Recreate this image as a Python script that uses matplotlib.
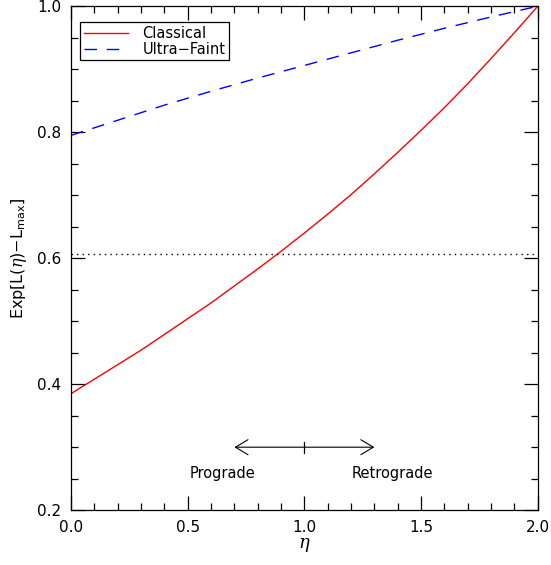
import matplotlib
matplotlib.use('Agg')
import matplotlib.pyplot as plt
from matplotlib.ticker import MultipleLocator

# values
eta_red = [0.0, 0.1, 0.2, 0.3, 0.4, 0.5, 0.6, 0.7, 0.8, 0.9, 1.0,
           1.1, 1.2, 1.3, 1.4, 1.5, 1.6, 1.7, 1.8, 1.9, 2.0]
classical = [0.385, 0.408, 0.431, 0.454, 0.479, 0.504, 0.529, 0.556, 0.583, 0.611, 0.640,
             0.670, 0.701, 0.734, 0.768, 0.803, 0.839, 0.877, 0.917, 0.958, 1.0]
eta_blue = [0.0, 0.2, 0.4, 0.6, 0.8, 1.0, 1.2, 1.4, 1.6, 1.8, 2.0]
ultra_faint = [0.795, 0.819, 0.843, 0.865, 0.886, 0.906, 0.926, 0.946, 0.965, 0.983, 1.0]
cut_level = 0.6065
arrow_span = [0.7, 1.3]
arrow_y = 0.30
arrow_mid = 1.0

plt.rcParams['font.family'] = ['DejaVu Sans']
plt.rcParams['mathtext.fontset'] = 'custom'
plt.rcParams['mathtext.it'] = 'DejaVu Serif:italic'
plt.rcParams['mathtext.rm'] = 'DejaVu Sans'

fig = plt.figure(figsize=(5.51, 5.65), dpi=100)
ax = fig.add_axes([0.129, 0.097, 0.847, 0.892])

ax.plot(eta_red, classical, color='red', lw=1.0, label='Classical')
ax.plot(eta_blue, ultra_faint, color='blue', lw=1.0, ls=(0, (9, 7)), label='Ultra\u2212Faint')
ax.axhline(cut_level, color='black', lw=1.0, ls=(0, (1, 3)))

ax.annotate('', xy=(arrow_span[0], arrow_y), xytext=(arrow_span[1], arrow_y),
            arrowprops=dict(arrowstyle='<->, head_length=0.5, head_width=0.3', color='black', lw=0.8,
                            shrinkA=0, shrinkB=0, mutation_scale=18))
ax.plot([arrow_mid, arrow_mid], [arrow_y - 0.009, arrow_y + 0.009], color='black', lw=0.9)
ax.text(0.647, 0.258, 'Prograde', ha='center', va='center', fontsize=10.5)
ax.text(1.375, 0.258, 'Retrograde', ha='center', va='center', fontsize=10.5)

ax.set_xlim(0, 2)
ax.set_ylim(0.2, 1.0)
ax.xaxis.set_major_locator(MultipleLocator(0.5))
ax.xaxis.set_minor_locator(MultipleLocator(0.1))
ax.yaxis.set_major_locator(MultipleLocator(0.2))
ax.yaxis.set_minor_locator(MultipleLocator(0.05))
ax.tick_params(which='both', direction='in', top=True, right=True, labelsize=11, width=0.9)
ax.tick_params(which='major', length=10, pad=7)
ax.tick_params(which='minor', length=5)
for s in ax.spines.values():
    s.set_linewidth(0.9)

ax.set_xlabel(r'$\eta$', fontsize=13, labelpad=1)
ax.set_ylabel(r'Exp[L($\eta$)$-$L$_{\rm max}$]', fontsize=11.5, labelpad=6)

leg = ax.legend(loc='upper left', bbox_to_anchor=(0.02, 0.968), fontsize=10.5, fancybox=False,
                edgecolor='black', framealpha=1, handlelength=3, borderpad=0.25,
                labelspacing=0.05, handletextpad=1.0, borderaxespad=0)
leg.get_frame().set_linewidth(0.9)

fig.savefig('out.png', dpi=100)
